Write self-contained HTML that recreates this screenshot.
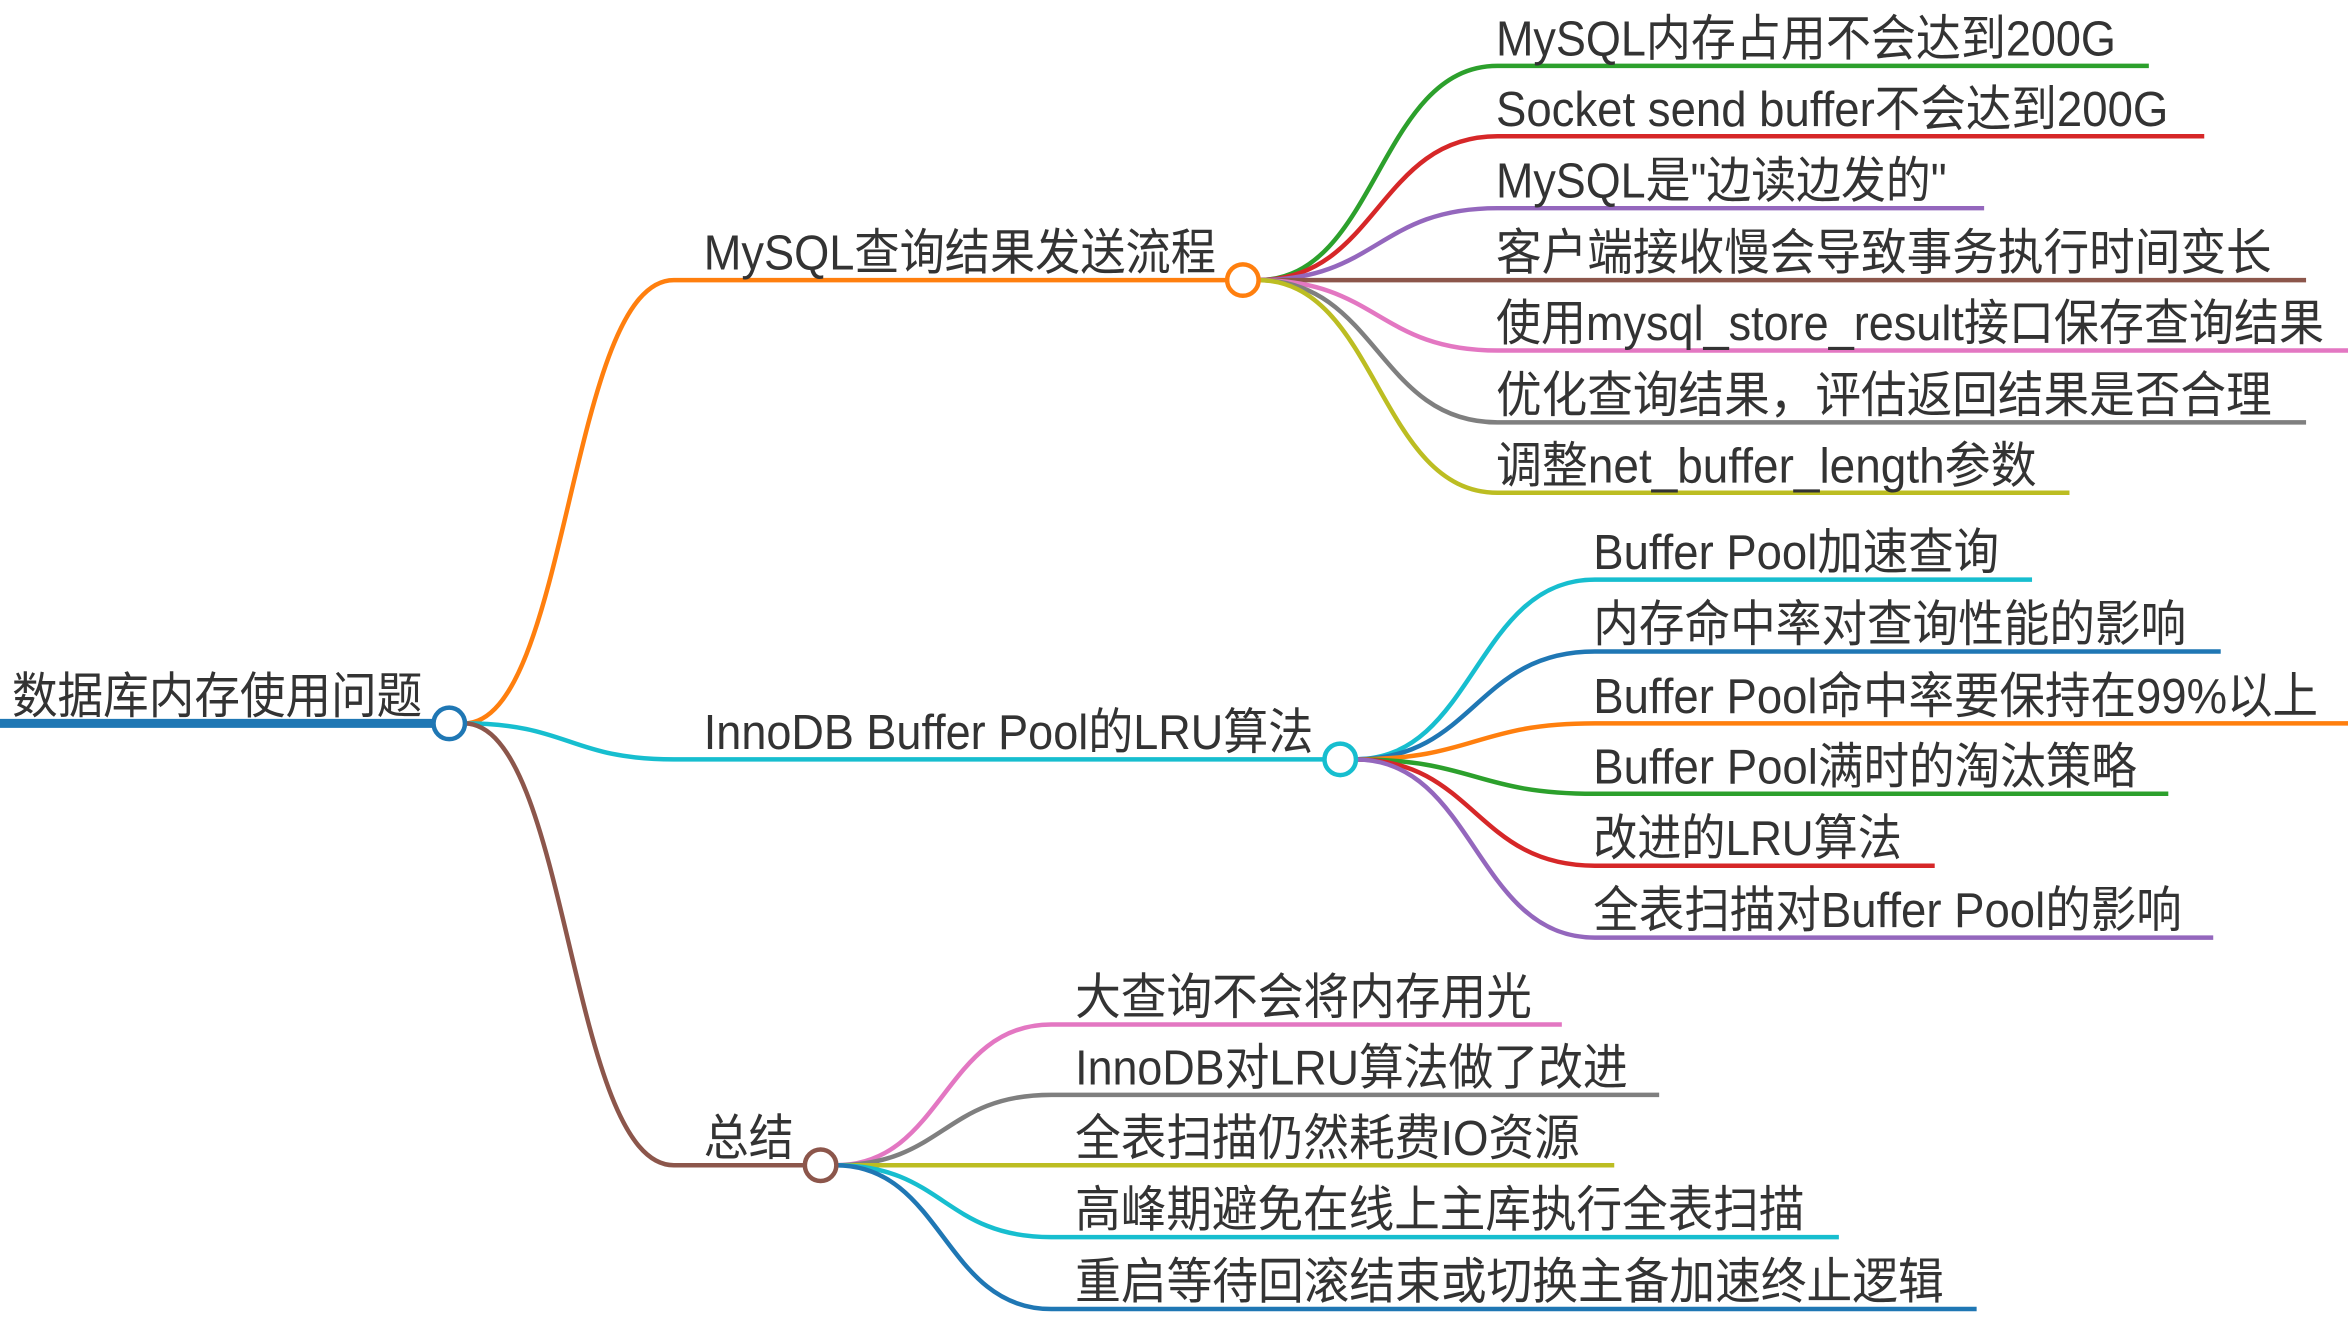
<!DOCTYPE html>
<html><head><meta charset="utf-8"><style>
html,body{margin:0;padding:0;background:#fff;}
svg{display:block}
text{font-family:"Liberation Sans","Noto Sans CJK SC",sans-serif;font-size:33px;fill:#333;}
</style></head><body>
<svg width="2348" height="1324" viewBox="0 0 1568 884" preserveAspectRatio="none" xmlns="http://www.w3.org/2000/svg">
<g fill="none" stroke-width="3">
<path d="M0 483 H292" stroke="#1f77b4" stroke-width="6"/>
<path d="M310 483 C380 483 380 187 450 187 H820" stroke="#ff7f0e"/>
<path d="M310 483 C380 483 380 507 450 507 H885" stroke="#17becf"/>
<path d="M310 483 C380 483 380 778 450 778 H538" stroke="#8c564b"/>
<path d="M840 187 C920 187 920 44 1000 44 H1435" stroke="#2ca02c"/>
<path d="M840 187 C920 187 920 91 1000 91 H1472" stroke="#d62728"/>
<path d="M840 187 C920 187 920 139 1000 139 H1325" stroke="#9467bd"/>
<path d="M840 187 H1540" stroke="#8c564b"/>
<path d="M840 187 C920 187 920 234 1000 234 H1568" stroke="#e377c2"/>
<path d="M840 187 C920 187 920 282 1000 282 H1540" stroke="#7f7f7f"/>
<path d="M840 187 C920 187 920 329 1000 329 H1382" stroke="#bcbd22"/>
<path d="M905 507 C985 507 985 387 1065 387 H1357" stroke="#17becf"/>
<path d="M905 507 C985 507 985 435 1065 435 H1483" stroke="#1f77b4"/>
<path d="M905 507 C985 507 985 483 1065 483 H1568" stroke="#ff7f0e"/>
<path d="M905 507 C985 507 985 530 1065 530 H1448" stroke="#2ca02c"/>
<path d="M905 507 C985 507 985 578 1065 578 H1292" stroke="#d62728"/>
<path d="M905 507 C985 507 985 626 1065 626 H1478" stroke="#9467bd"/>
<path d="M558 778 C630 778 630 684 702 684 H1043" stroke="#e377c2"/>
<path d="M558 778 C630 778 630 731 702 731 H1108" stroke="#7f7f7f"/>
<path d="M558 778 H1078" stroke="#bcbd22"/>
<path d="M558 778 C630 778 630 826 702 826 H1228" stroke="#17becf"/>
<path d="M558 778 C630 778 630 874 702 874 H1320" stroke="#1f77b4"/>
</g>
<g fill="#fff" stroke-width="3">
<circle cx="300" cy="483" r="10.5" stroke="#1f77b4"/>
<circle cx="830" cy="187" r="10.5" stroke="#ff7f0e"/>
<circle cx="895" cy="507" r="10.5" stroke="#17becf"/>
<circle cx="548" cy="778" r="10.5" stroke="#8c564b"/>
</g>
<g>
<text x="8" y="476" textLength="274" lengthAdjust="spacingAndGlyphs">数据库内存使用问题</text>
<text x="470" y="180" textLength="342" lengthAdjust="spacingAndGlyphs">MySQL查询结果发送流程</text>
<text x="470" y="500" textLength="407" lengthAdjust="spacingAndGlyphs">InnoDB Buffer Pool的LRU算法</text>
<text x="470" y="771" textLength="60" lengthAdjust="spacingAndGlyphs">总结</text>
<text x="999" y="37" textLength="414" lengthAdjust="spacingAndGlyphs">MySQL内存占用不会达到200G</text>
<text x="999" y="84" textLength="449" lengthAdjust="spacingAndGlyphs">Socket send buffer不会达到200G</text>
<text x="999" y="132" textLength="301" lengthAdjust="spacingAndGlyphs">MySQL是"边读边发的"</text>
<text x="999" y="180" textLength="518" lengthAdjust="spacingAndGlyphs">客户端接收慢会导致事务执行时间变长</text>
<text x="999" y="227" textLength="553" lengthAdjust="spacingAndGlyphs">使用mysql_store_result接口保存查询结果</text>
<text x="999" y="275" textLength="518" lengthAdjust="spacingAndGlyphs">优化查询结果，评估返回结果是否合理</text>
<text x="999" y="322" textLength="361" lengthAdjust="spacingAndGlyphs">调整net_buffer_length参数</text>
<text x="1064" y="380" textLength="271" lengthAdjust="spacingAndGlyphs">Buffer Pool加速查询</text>
<text x="1064" y="428" textLength="396" lengthAdjust="spacingAndGlyphs">内存命中率对查询性能的影响</text>
<text x="1064" y="476" textLength="484" lengthAdjust="spacingAndGlyphs">Buffer Pool命中率要保持在99%以上</text>
<text x="1064" y="523" textLength="363" lengthAdjust="spacingAndGlyphs">Buffer Pool满时的淘汰策略</text>
<text x="1064" y="571" textLength="206" lengthAdjust="spacingAndGlyphs">改进的LRU算法</text>
<text x="1064" y="619" textLength="393" lengthAdjust="spacingAndGlyphs">全表扫描对Buffer Pool的影响</text>
<text x="718" y="677" textLength="305" lengthAdjust="spacingAndGlyphs">大查询不会将内存用光</text>
<text x="718" y="724" textLength="369" lengthAdjust="spacingAndGlyphs">InnoDB对LRU算法做了改进</text>
<text x="718" y="771" textLength="337" lengthAdjust="spacingAndGlyphs">全表扫描仍然耗费IO资源</text>
<text x="718" y="819" textLength="487" lengthAdjust="spacingAndGlyphs">高峰期避免在线上主库执行全表扫描</text>
<text x="718" y="867" textLength="580" lengthAdjust="spacingAndGlyphs">重启等待回滚结束或切换主备加速终止逻辑</text>
</g>
</svg>
</body></html>
